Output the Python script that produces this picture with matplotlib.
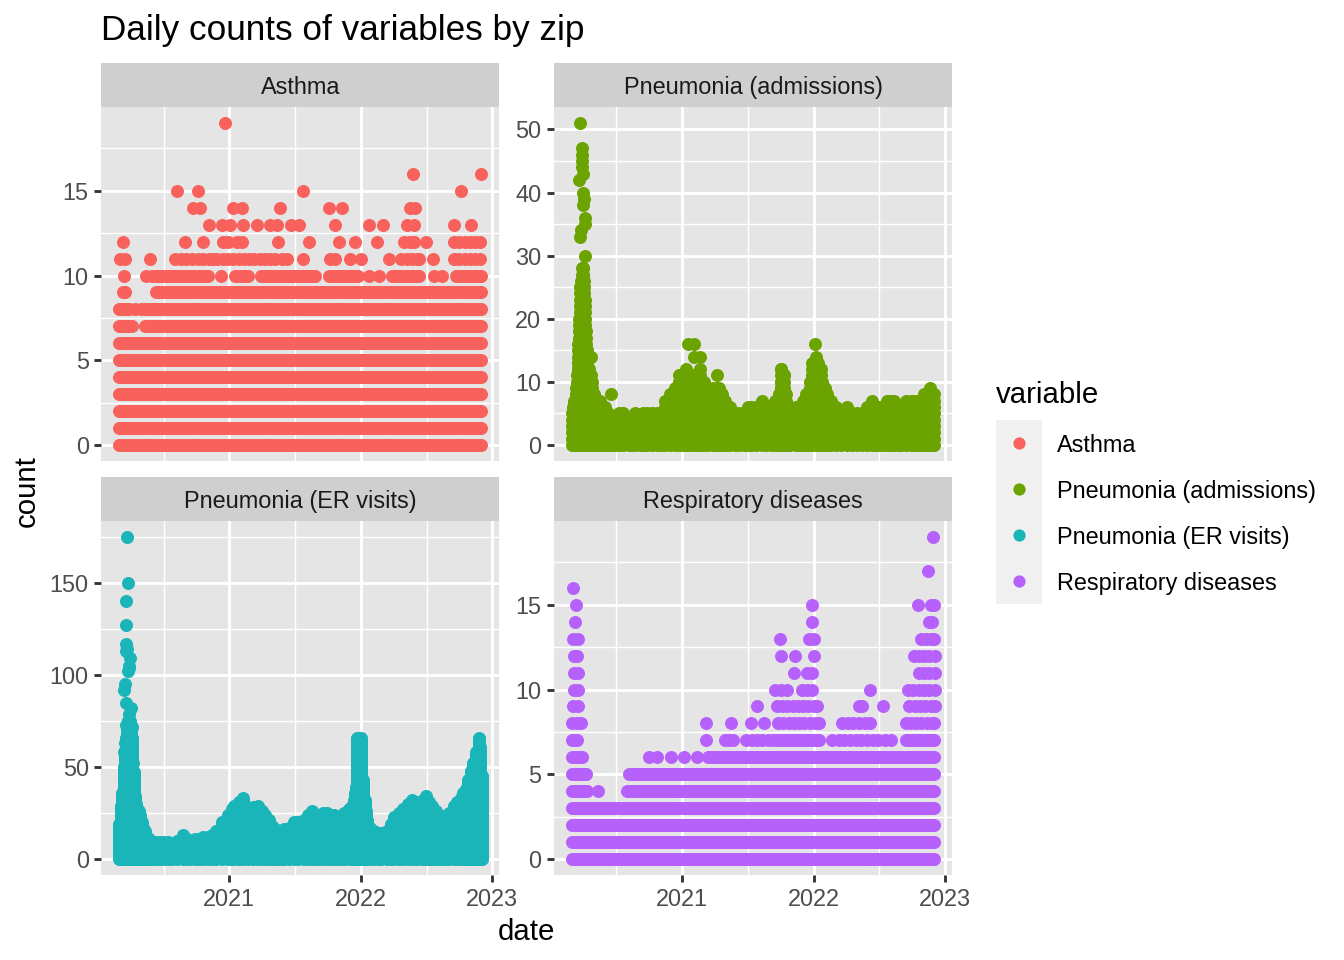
import numpy as np
import matplotlib
matplotlib.use('Agg')
import matplotlib.pyplot as plt
from matplotlib.patches import Rectangle

plt.rcParams['font.family'] = ['Liberation Sans', 'DejaVu Sans']

# dates are decimal years
count_dates = [2020.16, 2020.18, 2020.20, 2020.22, 2020.24, 2020.26, 2020.28, 2020.30, 2020.32, 2020.34, 2020.36,
               2020.38, 2020.40, 2020.42, 2020.44, 2020.46, 2020.48, 2020.50, 2020.52, 2020.54, 2020.56, 2020.58,
               2020.60, 2020.62, 2020.64, 2020.66, 2020.68, 2020.70, 2020.72, 2020.74, 2020.76, 2020.78, 2020.80,
               2020.82, 2020.84, 2020.86, 2020.88, 2020.90, 2020.92, 2020.94, 2020.96, 2020.98,
               2021.00, 2021.02, 2021.04, 2021.06, 2021.08, 2021.10, 2021.12, 2021.14, 2021.16, 2021.18, 2021.20,
               2021.22, 2021.24, 2021.26, 2021.28, 2021.30, 2021.32, 2021.34, 2021.36, 2021.38, 2021.40, 2021.42,
               2021.44, 2021.46, 2021.48, 2021.50, 2021.52, 2021.54, 2021.56, 2021.58, 2021.60, 2021.62, 2021.64,
               2021.66, 2021.68, 2021.70, 2021.72, 2021.74, 2021.76, 2021.78, 2021.80, 2021.82, 2021.84, 2021.86,
               2021.88, 2021.90, 2021.92, 2021.94, 2021.96, 2021.98,
               2022.00, 2022.02, 2022.04, 2022.06, 2022.08, 2022.10, 2022.12, 2022.14, 2022.16, 2022.18, 2022.20,
               2022.22, 2022.24, 2022.26, 2022.28, 2022.30, 2022.32, 2022.34, 2022.36, 2022.38, 2022.40, 2022.42,
               2022.44, 2022.46, 2022.48, 2022.50, 2022.52, 2022.54, 2022.56, 2022.58, 2022.60, 2022.62, 2022.64,
               2022.66, 2022.68, 2022.70, 2022.72, 2022.74, 2022.76, 2022.78, 2022.80, 2022.82, 2022.84, 2022.86,
               2022.88, 2022.90, 2022.915]

# highest count reached without a break at each of count_dates
asthma_top = ([8, 8, 10, 8, 8, 7, 6, 6, 6, 6, 8, 8, 8, 8] + [10] * 21 + [9] * 7
              + [9, 9] + [10] * 6 + [9] * 4 + [10] * 21 + [9] * 5 + [10] * 12
              + [9] * 12 + [10] * 11 + [9] * 5 + [10] + [9] * 7 + [10] * 11)
resp_top = ([7, 7, 7, 6, 6, 5, 4, 3] + [3] * 13 + [4] + [5] * 20
            + [5] * 10 + [6] * 26 + [7] * 14
            + [7] * 3 + [6] * 32 + [7] * 12)

# separate points above the solid part, by count
asthma_upper = {
    8: [2020.28, 2020.33],
    9: [2020.19, 2020.21],
    10: [2020.365, 2020.41, 2020.936, 2021.653, 2022.065, 2022.136, 2022.62],
    11: [2020.166, 2020.205, 2020.395, 2020.586, 2020.63, 2020.67, 2020.715, 2020.76, 2020.80, 2020.845, 2020.875,
         2020.905, 2020.95, 2020.99, 2021.03, 2021.07, 2021.11, 2021.15, 2021.19, 2021.23, 2021.27, 2021.31,
         2021.35, 2021.40, 2021.435, 2021.557, 2021.767, 2021.806, 2021.92, 2022.004, 2022.212, 2022.309,
         2022.35, 2022.39, 2022.43, 2022.446, 2022.55, 2022.71, 2022.75, 2022.79, 2022.83, 2022.87, 2022.908],
    12: [2020.192, 2020.662, 2020.799, 2020.954, 2020.992, 2021.056, 2021.094, 2021.371, 2021.602, 2021.834,
         2021.953, 2022.123, 2022.327, 2022.377, 2022.403, 2022.492, 2022.708, 2022.75, 2022.79, 2022.83, 2022.87, 2022.91],
    13: [2020.845, 2020.942, 2021.005, 2021.107, 2021.211, 2021.31, 2021.361, 2021.47, 2021.531, 2021.80,
         2022.065, 2022.172, 2022.352, 2022.403, 2022.708, 2022.84],
    14: [2020.726, 2020.779, 2021.025, 2021.097, 2021.386, 2021.757, 2021.854, 2022.377, 2022.415],
    15: [2020.598, 2020.759, 2021.562, 2022.759],
    16: [2022.393, 2022.911],
    19: [2020.967],
}
resp_upper = {
    4: [2020.36],
    5: [2020.27],
    6: [2020.751, 2020.81, 2020.916, 2021.013, 2021.114],
    7: [2021.183, 2021.323, 2021.36, 2021.39, 2021.488, 2021.53, 2021.57, 2021.61, 2021.65, 2021.69,
        2022.143, 2022.19, 2022.23, 2022.28, 2022.32, 2022.36, 2022.41, 2022.45, 2022.49, 2022.54, 2022.59],
    8: [2020.162, 2020.20, 2020.23, 2021.183, 2021.371, 2021.526, 2021.625, 2021.73, 2021.77, 2021.81, 2021.85,
        2021.89, 2021.93, 2021.97, 2022.01, 2022.04, 2022.215, 2022.26, 2022.30, 2022.345, 2022.39, 2022.43,
        2022.70, 2022.74, 2022.78, 2022.82, 2022.86, 2022.90, 2022.915],
    9: [2020.17, 2020.21, 2021.572, 2021.724, 2021.76, 2021.80, 2021.84, 2021.88, 2021.92, 2021.96, 2022.00, 2022.03,
        2022.347, 2022.372, 2022.525, 2022.728, 2022.77, 2022.81, 2022.85, 2022.89, 2022.92],
    10: [2020.18, 2020.21, 2021.704, 2021.75, 2021.80, 2021.915, 2021.95, 2021.99, 2022.428,
         2022.715, 2022.76, 2022.80, 2022.84, 2022.88, 2022.92],
    11: [2020.18, 2020.21, 2021.851, 2021.953, 2021.991, 2022.805, 2022.84, 2022.88, 2022.92],
    12: [2020.18, 2020.20, 2021.75, 2021.859, 2022.001, 2022.766, 2022.80, 2022.84, 2022.88, 2022.92],
    13: [2020.174, 2020.212, 2021.745, 2021.966, 2022.004, 2022.817, 2022.855, 2022.89, 2022.919],
    14: [2020.182, 2021.989, 2022.875, 2022.898],
    15: [2020.194, 2021.989, 2022.797, 2022.893, 2022.919],
    16: [2020.172],
    17: [2022.870],
    19: [2022.909],
}

# top of the filled shape for the two spiky panels
adm_dates = [2020.161, 2020.170, 2020.179, 2020.187, 2020.194, 2020.200, 2020.206, 2020.212, 2020.218, 2020.224,
             2020.232, 2020.238, 2020.244, 2020.250, 2020.256, 2020.262, 2020.270, 2020.280, 2020.292, 2020.304,
             2020.318, 2020.332, 2020.344, 2020.360, 2020.377, 2020.396, 2020.415, 2020.44, 2020.466, 2020.49,
             2020.517, 2020.55, 2020.593, 2020.62, 2020.644, 2020.682, 2020.70, 2020.733, 2020.77, 2020.809,
             2020.84, 2020.873, 2020.911, 2020.945, 2020.975, 2021.005, 2021.033, 2021.06, 2021.094, 2021.12,
             2021.14, 2021.17, 2021.20, 2021.235, 2021.267, 2021.28, 2021.305, 2021.33, 2021.35, 2021.368,
             2021.40, 2021.432, 2021.47, 2021.50, 2021.521, 2021.56, 2021.61, 2021.64, 2021.673, 2021.71,
             2021.735, 2021.75, 2021.755, 2021.765, 2021.775, 2021.788, 2021.82, 2021.864, 2021.889, 2021.92,
             2021.94, 2021.953, 2021.972, 2021.991, 2022.016, 2022.035, 2022.055, 2022.067, 2022.085, 2022.105,
             2022.135, 2022.169, 2022.21, 2022.253, 2022.29, 2022.334, 2022.37, 2022.41, 2022.441, 2022.47,
             2022.499, 2022.53, 2022.558, 2022.585, 2022.614, 2022.64, 2022.665, 2022.705, 2022.741, 2022.765,
             2022.792, 2022.82, 2022.842, 2022.865, 2022.886, 2022.905, 2022.919]
adm_top = [5, 6, 7, 7, 9, 11, 13, 16, 20, 25, 26, 28, 28, 28, 26, 23, 18, 15, 12, 11,
           10, 8, 7, 7, 7, 6, 6, 5, 4, 4, 5, 5, 4, 4, 5, 4, 5, 5, 5, 5,
           5, 7, 8, 9, 11, 11, 12, 11, 11, 11, 11, 10, 9, 9, 9, 9, 8, 7, 6, 6,
           5, 5, 5, 6, 6, 6, 7, 6, 6, 7, 8, 10, 12, 11, 11, 8, 6, 6, 6, 7,
           8, 8, 10, 13, 14, 13, 12, 10, 9, 8, 7, 6, 5, 6, 5, 5, 5, 6, 7, 6,
           6, 6, 7, 7, 7, 6, 6, 7, 7, 7, 7, 7, 8, 8, 9, 8, 8]
adm_peak_dates = [2020.225, 2020.238, 2020.236, 2020.238, 2020.241, 2020.244, 2020.219, 2020.249, 2020.252, 2020.247,
                  2020.265, 2020.262, 2020.230, 2020.223, 2020.263, 2020.459, 2021.043, 2021.094, 2021.094, 2021.14,
                  2021.14, 2021.267, 2021.755, 2022.011, 2021.775, 2020.31]
adm_peak_counts = [51, 47, 46, 45, 44, 43, 42, 40, 39, 38, 36, 35, 34, 33, 30, 8, 16, 16, 14, 14, 12, 11, 12, 16, 11, 14]

er_dates = [2020.161, 2020.174, 2020.185, 2020.195, 2020.200, 2020.205, 2020.212, 2020.222, 2020.232, 2020.242, 2020.252,
            2020.258, 2020.262, 2020.272, 2020.276, 2020.280, 2020.290, 2020.300, 2020.312, 2020.324, 2020.334, 2020.346, 2020.358,
            2020.372, 2020.386, 2020.400, 2020.420, 2020.445, 2020.470, 2020.500, 2020.530, 2020.560, 2020.60,
            2020.649, 2020.675, 2020.70, 2020.74, 2020.77, 2020.802, 2020.835, 2020.865, 2020.90, 2020.942,
            2020.992, 2021.02, 2021.038, 2021.07, 2021.107, 2021.145, 2021.18, 2021.221, 2021.25, 2021.272,
            2021.30, 2021.323, 2021.345, 2021.368, 2021.39, 2021.412, 2021.45, 2021.488, 2021.525, 2021.564,
            2021.60, 2021.628, 2021.655, 2021.679, 2021.71, 2021.742, 2021.77, 2021.793, 2021.82, 2021.844,
            2021.875, 2021.907, 2021.93, 2021.945, 2021.955, 2021.966, 2021.970, 2021.973, 2021.985, 2021.999,
            2022.003, 2022.015, 2022.030, 2022.040, 2022.048, 2022.070, 2022.100, 2022.130, 2022.156, 2022.199, 2022.23, 2022.255, 2022.29,
            2022.319, 2022.355, 2022.39, 2022.42, 2022.454, 2022.475, 2022.497, 2022.52, 2022.543, 2022.57,
            2022.593, 2022.615, 2022.639, 2022.67, 2022.708, 2022.735, 2022.758, 2022.78, 2022.797, 2022.815,
            2022.835, 2022.855, 2022.875, 2022.898, 2022.908, 2022.919]
er_top = [19, 29, 36, 42, 50, 58, 66, 72, 75, 75, 72,
          66, 57, 47, 40, 34, 30, 27, 26, 24, 20, 17, 15,
          12, 11, 10, 9, 9, 9, 9, 9, 8, 10,
          13, 11, 10, 11, 11, 12, 12, 13, 15, 20,
          24, 27, 29, 31, 33, 26, 28, 29, 26, 24,
          21, 18, 16, 14, 15, 16, 17, 20, 20, 21,
          24, 26, 24, 23, 25, 25, 24, 24, 23, 23,
          25, 27, 29, 32, 36, 39, 50, 66, 66, 66,
          57, 43, 32, 26, 21, 17, 15, 14, 14, 15, 19, 23, 25,
          27, 30, 32, 31, 29, 32, 34, 31, 29, 26,
          24, 22, 21, 25, 29, 31, 33, 36, 38, 43,
          48, 52, 58, 66, 61, 45]
er_peak_dates = [2020.225, 2020.227, 2020.212, 2020.215, 2020.217, 2020.222, 2020.212, 2020.243, 2020.238, 2020.230,
                 2020.240, 2020.205, 2020.202, 2020.217, 2020.250, 2020.235, 2020.230, 2020.212, 2020.260, 2020.250,
                 2020.205, 2020.199, 2020.258, 2020.264]
er_peak_counts = [175, 150, 140, 127, 117, 114, 113, 109, 105, 102, 104, 95, 92, 85, 82, 79, 75, 73, 72, 70, 63, 58, 64, 52]

year_ticks = [2021, 2022, 2023]
year_minor = [2020.5, 2021.5, 2022.5]
panel_names = ['Asthma', 'Pneumonia (admissions)', 'Pneumonia (ER visits)', 'Respiratory diseases']
panel_colors = ['#F8615C', '#6BA300', '#19B5B9', '#B761FD']

W, H = 1344, 960
PANEL_BG = '#E5E5E5'
STRIP_BG = '#CFCFCF'
POINT_S = 23.8


def px_axes(fig, x0, y0, x1, y1):
    return fig.add_axes([x0 / W, 1 - y1 / H, (x1 - x0) / W, (y1 - y0) / H])


def stacked(dates, tops):
    # one point for every count from 0 up to the top at each date
    xs, ys = [], []
    for d, t in zip(dates, tops, strict=True):
        for c in range(t + 1):
            xs.append(d)
            ys.append(c)
    return xs, ys


def upper_points(levels):
    xs, ys = [], []
    for c, dates in levels.items():
        xs += dates
        ys += [c] * len(dates)
    return xs, ys


fig = plt.figure(figsize=(7, 5), dpi=192)

asthma_x, asthma_y = stacked(count_dates, asthma_top)
up_x, up_y = upper_points(asthma_upper)
asthma_x, asthma_y = asthma_x + up_x, asthma_y + up_y

adm_x, adm_y = stacked(adm_dates, adm_top)
adm_x, adm_y = adm_x + adm_peak_dates, adm_y + adm_peak_counts

er_x, er_y = stacked(er_dates, er_top)
er_x, er_y = er_x + er_peak_dates, er_y + er_peak_counts

resp_x, resp_y = stacked(count_dates, resp_top)
up_x, up_y = upper_points(resp_upper)
resp_x, resp_y = resp_x + up_x, resp_y + up_y

panels = [
    (asthma_x, asthma_y, (-0.95, 19.95), [0, 5, 10, 15], [2.5, 7.5, 12.5, 17.5], 101.3, 107, False),
    (adm_x, adm_y, (-2.55, 53.55), [0, 10, 20, 30, 40, 50], [5, 15, 25, 35, 45], 554, 107, False),
    (er_x, er_y, (-8.75, 183.75), [0, 50, 100, 150], [25, 75, 125, 175], 101.3, 521, True),
    (resp_x, resp_y, (-0.95, 19.95), [0, 5, 10, 15], [2.5, 7.5, 12.5, 17.5], 554, 521, True),
]

for i, (xs, ys, ylim, yt, ym, left, top, show_x) in enumerate(panels):
    ax = px_axes(fig, left, top, left + 398, top + 354)
    ax.set_facecolor(PANEL_BG)
    ax.scatter(xs, ys, s=POINT_S, color=panel_colors[i], linewidths=0, zorder=3)
    ax.set_xlim(2020.026, 2023.053)
    ax.set_ylim(*ylim)
    ax.set_xticks(year_ticks)
    ax.set_xticks(year_minor, minor=True)
    ax.set_yticks(yt)
    ax.set_yticks(ym, minor=True)
    ax.grid(which='major', color='white', lw=1.07, zorder=1)
    ax.grid(which='minor', color='white', lw=0.53, zorder=1)
    ax.set_axisbelow(True)
    for s in ax.spines.values():
        s.set_visible(False)
    ax.tick_params(which='minor', length=0)
    ax.tick_params(axis='y', which='major', length=2.75, width=1.07, color='#333333',
                   labelcolor='#4D4D4D', labelsize=8.8, pad=2)
    ax.tick_params(axis='x', which='major', length=2.75 if show_x else 0, width=1.07, color='#333333',
                   labelcolor='#4D4D4D', labelsize=8.8, pad=2, labelbottom=show_x)

    strip = px_axes(fig, left, top - 44, left + 398, top)
    strip.set_facecolor(STRIP_BG)
    strip.set_xticks([])
    strip.set_yticks([])
    for s in strip.spines.values():
        s.set_visible(False)
    strip.text(0.5, 0.5, panel_names[i], ha='center', va='center_baseline', fontsize=8.8, color='#1A1A1A',
               transform=strip.transAxes)

fig.text(101 / W, 1 - 40 / H, 'Daily counts of variables by zip', fontsize=13.2, color='black', ha='left', va='baseline')
fig.text(526 / W, 1 - 932 / H, 'date', fontsize=11, ha='center', va='center')
fig.text(27 / W, 1 - 491 / H, 'count', fontsize=11, rotation=90, ha='center', va='center')

# legend drawn by hand like the ggplot guide
fig.text(996 / W, 1 - 395 / H, 'variable', fontsize=11, ha='left', va='center')
key_ax = px_axes(fig, 996, 420, 1042, 604)
key_ax.set_xlim(0, 1)
key_ax.set_ylim(4, 0)
key_ax.axis('off')
key_ax.add_patch(Rectangle((0, 0), 1, 4, color='#F0F0F0', lw=0))
for i, name in enumerate(panel_names):
    key_ax.scatter([0.5], [i + 0.5], s=21, color=panel_colors[i], linewidths=0, zorder=3)
    fig.text(1057 / W, 1 - (445.5 + 46 * i) / H, name, fontsize=8.8, ha='left', va='center', color='black')

fig.savefig('out.png', dpi=192)
